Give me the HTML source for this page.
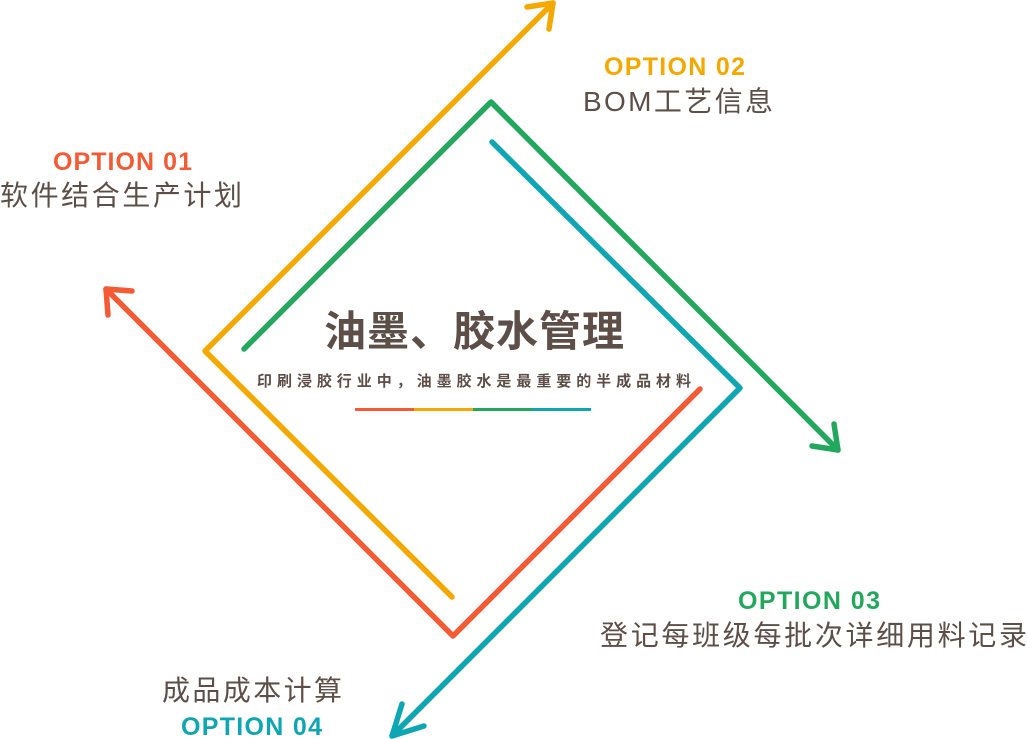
<!DOCTYPE html>
<html><head><meta charset="utf-8"><style>
html,body{margin:0;padding:0;background:#fff;width:1027px;height:739px;overflow:hidden}
svg{display:block}
text{font-family:"Liberation Sans","Noto Sans CJK SC",sans-serif}
.op{font-weight:bold;font-size:25px}
.cn{fill:#5d4f48;font-size:28px}
</style></head><body>
<svg width="1027" height="739" viewBox="0 0 1027 739">
<g fill="none" stroke-width="5.5" stroke-linecap="round" stroke-linejoin="round">
<polyline points="700,389 453,636 106,289" stroke="#f45a34"/>
<polyline points="108,315 106,289 132,291" stroke="#f45a34"/>
<polyline points="452,597 205,351 553,3" stroke="#f5a800"/>
<polyline points="527,7 553,3 549,29" stroke="#f5a800"/>
<polyline points="244,349 491,102 838,450" stroke="#22a85c"/>
<polyline points="812,446 838,450 834,424" stroke="#22a85c"/>
<polyline points="492,142 740,388 392,736" stroke="#0ea6b3"/>
<polyline points="402,704 392,736 424,726" stroke="#0ea6b3"/>
</g>
<text x="53" y="170" class="op" fill="#f45a34" textLength="139">OPTION 01</text>
<text x="0" y="205" class="cn" textLength="242">软件结合生产计划</text>
<text x="604" y="75" class="op" fill="#f5a800" textLength="141">OPTION 02</text>
<text x="583" y="111" class="cn" textLength="190">BOM工艺信息</text>
<text x="738" y="609" class="op" fill="#22a85c" textLength="142">OPTION 03</text>
<text x="600" y="645" class="cn" textLength="427">登记每班级每批次详细用料记录</text>
<text x="162" y="700" class="cn" textLength="180">成品成本计算</text>
<text x="181" y="735" class="op" fill="#0ea6b3" textLength="141">OPTION 04</text>
<text x="324" y="346" font-size="42" font-weight="bold" fill="#5d4f48" textLength="300">油墨、胶水管理</text>
<text x="474" y="386" text-anchor="middle" font-size="15" font-weight="bold" fill="#5d4f48" textLength="434">印刷浸胶行业中，油墨胶水是最重要的半成品材料</text>
<rect x="355" y="408" width="59" height="3" fill="#f45a34"/>
<rect x="414" y="408" width="59" height="3" fill="#f5a800"/>
<rect x="473" y="408" width="59" height="3" fill="#22a85c"/>
<rect x="532" y="408" width="59" height="3" fill="#0ea6b3"/>
</svg>
</body></html>
